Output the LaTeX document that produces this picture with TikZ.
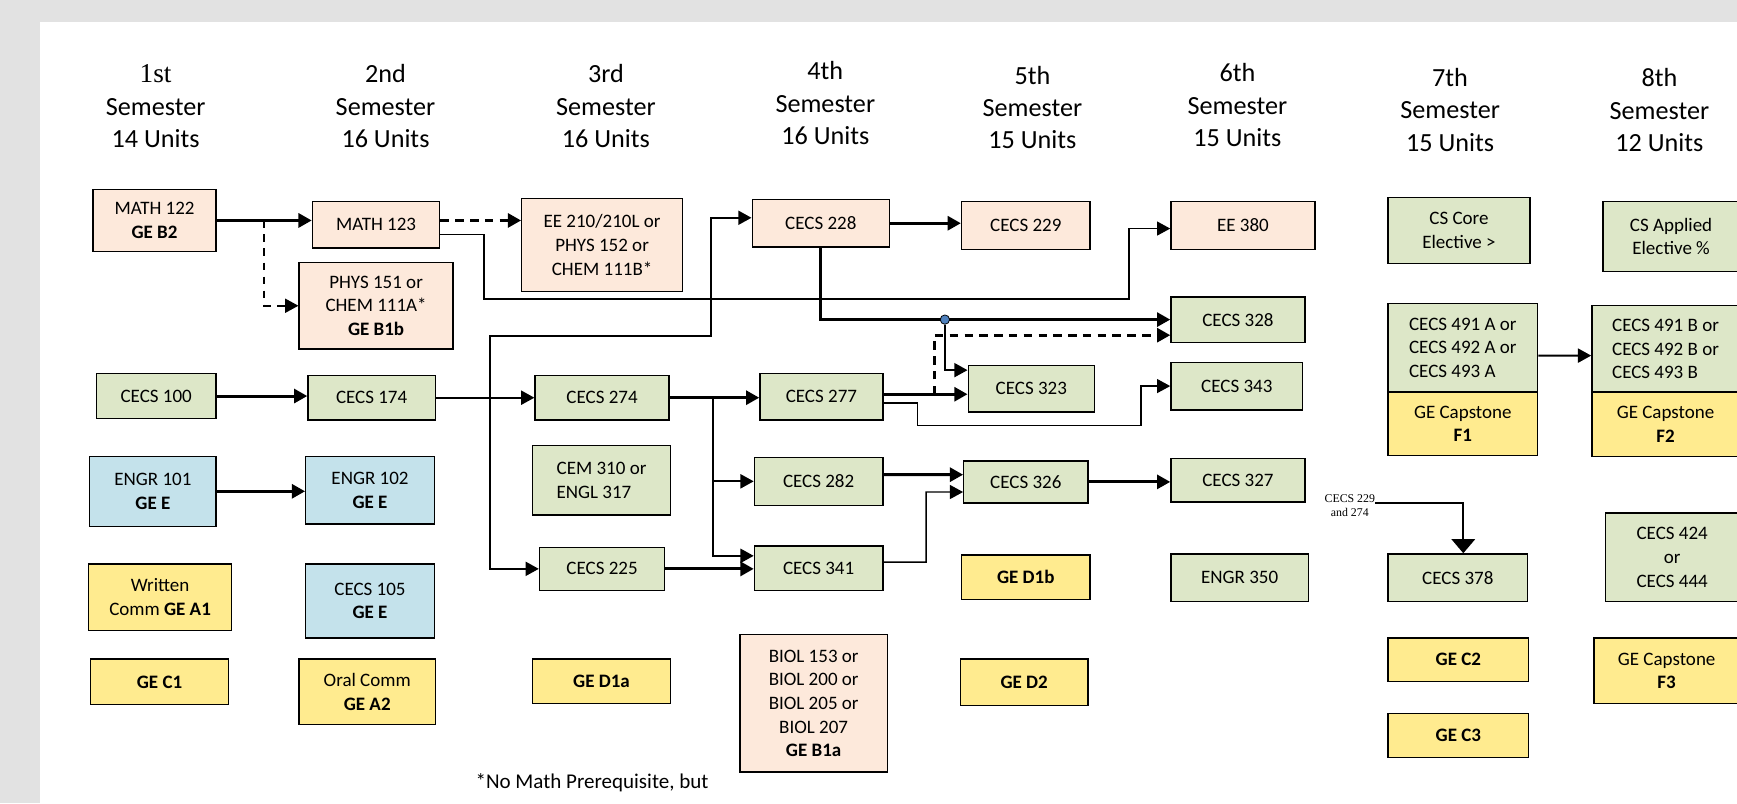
\documentclass[tikz,border=0pt]{standalone}
\usepackage{fontspec}
\setmainfont{Carlito}
\newfontfamily\serifhd{Liberation Serif}
\usetikzlibrary{arrows.meta,calc}
\definecolor{peach}{HTML}{FDE9DB}
\definecolor{sage}{HTML}{DDE7C8}
\definecolor{sky}{HTML}{C4E2EB}
\definecolor{sand}{HTML}{FFEB8F}
\definecolor{pagegray}{HTML}{E2E2E2}
\definecolor{dotblue}{HTML}{4F81BD}
\begin{document}
\begin{tikzpicture}[x=0.025cm, y=-0.025cm,
                box/.style={draw, line width=0.85pt, align=center, inner sep=1pt,
                            font=\fontsize{12.2}{15.2}\selectfont},
                pk/.style={box, fill=peach},
                gr/.style={box, fill=sage},
                bl/.style={box, fill=sky},
                yl/.style={box, fill=sand},
                sem/.style={align=center, font=\fontsize{16.8}{20.8}\selectfont},
                dot/.style={circle, draw, fill=dotblue, line width=0.5pt, inner sep=0pt, minimum size=6pt},
                tip/.style={-{Triangle[length=8.5pt,width=9pt]}},
                thk/.style={tip, line width=1.9pt},
                mid/.style={tip, line width=1.3pt},
                thn/.style={tip, line width=0.9pt},
                dsh/.style={tip, line width=1pt, dash pattern=on 5pt off 4pt},
                dshthk/.style={tip, line width=1.9pt, dash pattern=on 5.5pt off 4pt}
            ]
            \clip (0,0) rectangle (1568,725);
            \fill[pagegray] (0,0) rectangle (1568,725);
            \fill[white] (36,20) rectangle (1568,725);

            \node[sem] (h1) at (140.5,96) {{\serifhd\fontsize{17.5}{20.8}\selectfont 1st}\\Semester\\14 Units};
            \node[sem] (h2) at (348,96) {2nd\\Semester\\16 Units};
            \node[sem] (h3) at (547,96) {3rd\\Semester\\16 Units};
            \node[sem] (h4) at (745,93) {4th\\Semester\\16 Units};
            \node[sem] (h5) at (932,97) {5th\\Semester\\15 Units};
            \node[sem] (h6) at (1117,95) {6th\\Semester\\15 Units};
            \node[sem] (h7) at (1309,99) {7th\\Semester\\15 Units};
            \node[sem] (h8) at (1498,99.5) {8th\\Semester\\12 Units};

            \node[pk, minimum width=2.775cm, minimum height=1.4cm] (m122) at (139.5,199) {MATH 122\\\textbf{GE B2}};
            \node[gr, minimum width=2.7cm, minimum height=1.025cm] (c100) at (141,357.5) {CECS 100};
            \node[bl, minimum width=2.85cm, minimum height=1.575cm] (e101) at (138,443.5) {ENGR 101\\\textbf{GE E}};
            \node[yl, minimum width=3.225cm, minimum height=1.5cm] (wa1) at (144.5,539) {Written\\Comm \textbf{GE A1}};
            \node[yl, minimum width=3.1cm, minimum height=1.025cm] (gc1) at (144,615.5) {\textbf{GE C1}};

            \node[pk, minimum width=2.875cm, minimum height=1.05cm] (m123) at (339.5,203) {MATH 123};
            \node[pk, minimum width=3.475cm, minimum height=1.95cm] (p151) at (339.5,276) {PHYS 151 or\\CHEM 111A*\\\textbf{GE B1b}};
            \node[gr, minimum width=2.875cm, minimum height=1cm] (c174) at (335.5,359) {CECS 174};
            \node[bl, minimum width=2.9cm, minimum height=1.525cm] (e102) at (334,442.5) {ENGR 102\\\textbf{GE E}};
            \node[bl, minimum width=2.9cm, minimum height=1.675cm] (c105) at (334,542.5) {CECS 105\\\textbf{GE E}};
            \node[yl, minimum width=3.075cm, minimum height=1.475cm] (oa2) at (331.5,624.5) {Oral Comm\\\textbf{GE A2}};

            \node[pk, minimum width=3.625cm, minimum height=2.1cm] (ee210) at (543.5,221) {EE 210/210L or\\PHYS 152 or\\CHEM 111B*};
            \node[gr, minimum width=3.025cm, minimum height=1cm] (c274) at (543.5,359) {CECS 274};
            \node[gr, minimum width=3.1cm, minimum height=1.575cm, align=left] (cem) at (543,433.5) {CEM 310 or\\ENGL 317};
            \node[gr, minimum width=2.825cm, minimum height=0.975cm] (c225) at (543.5,513.5) {CECS 225};
            \node[yl, minimum width=3.1cm, minimum height=1cm] (gd1a) at (543,615) {\textbf{GE D1a}};

            \node[pk, minimum width=3.1cm, minimum height=1.075cm] (c228) at (741,201.5) {CECS 228};
            \node[gr, minimum width=2.775cm, minimum height=1.05cm] (c277) at (741.5,358) {CECS 277};
            \node[gr, minimum width=2.9cm, minimum height=1.075cm] (c282) at (739,434.5) {CECS 282};
            \node[gr, minimum width=2.9cm, minimum height=1cm] (c341) at (739,513) {CECS 341};
            \node[pk, minimum width=3.325cm, minimum height=3.1cm] (biol) at (734.5,635) {BIOL 153 or\\BIOL 200 or\\BIOL 205 or\\BIOL 207\\\textbf{GE B1a}};

            \node[pk, minimum width=2.9cm, minimum height=1.075cm] (c229) at (926,203.5) {CECS 229};
            \node[gr, minimum width=2.85cm, minimum height=1.05cm] (c323) at (931,351) {CECS 323};
            \node[gr, minimum width=2.8cm, minimum height=0.95cm] (c326) at (926,435) {CECS 326};
            \node[yl, minimum width=2.9cm, minimum height=1cm] (gd1b) at (926,521) {\textbf{GE D1b}};
            \node[yl, minimum width=2.875cm, minimum height=1.05cm] (gd2) at (924.5,616) {\textbf{GE D2}};

            \node[pk, minimum width=3.25cm, minimum height=1.075cm] (ee380) at (1122,203.5) {EE 380};
            \node[gr, minimum width=3.025cm, minimum height=1.025cm] (c328) at (1117.5,288.5) {CECS 328};
            \node[gr, minimum width=2.975cm, minimum height=1.075cm] (c343) at (1116.5,348.5) {CECS 343};
            \node[gr, minimum width=3.025cm, minimum height=0.975cm] (c327) at (1117.5,433.5) {CECS 327};
            \node[gr, minimum width=3.1cm, minimum height=1.075cm] (e350) at (1119,521.5) {ENGR 350};

            \node[gr, minimum width=3.2cm, minimum height=1.5cm] (csc) at (1317,208) {CS Core\\Elective >};
            \node[gr, minimum width=3.375cm, minimum height=2cm, align=left] (c491a) at (1320.5,314) {CECS 491 A or\\CECS 492 A or\\CECS 493 A};
            \node[yl, minimum width=3.375cm, minimum height=1.425cm] (f1) at (1320.5,382.5) {GE Capstone\\\textbf{F1}};
            \node[gr, minimum width=3.15cm, minimum height=1.075cm] (c378) at (1316,521.5) {CECS 378};
            \node[yl, minimum width=3.175cm, minimum height=0.975cm] (gc2) at (1316.5,595.5) {\textbf{GE C2}};
            \node[yl, minimum width=3.175cm, minimum height=1cm] (gc3) at (1316.5,664) {\textbf{GE C3}};

            \node[gr, minimum width=3.075cm, minimum height=1.575cm] (csa) at (1508.5,213.5) {CS Applied\\Elective \%};
            \node[gr, minimum width=3.325cm, minimum height=1.95cm, align=left] (c491b) at (1503.5,315) {CECS 491 B or\\CECS 492 B or\\CECS 493 B};
            \node[yl, minimum width=3.325cm, minimum height=1.45cm] (f2) at (1503.5,383) {GE Capstone\\\textbf{F2}};
            \node[gr, minimum width=3.025cm, minimum height=2cm] (c424) at (1509.5,503) {CECS 424\\or\\CECS 444};
            \node[yl, minimum width=3.275cm, minimum height=1.475cm] (f3) at (1504.5,605.5) {GE Capstone\\\textbf{F3}};

            \node[font=\serifhd\fontsize{7.6}{8.8}\selectfont, align=center, inner sep=0pt] (nt) at (1218.5,456.6) {CECS 229\\and 274};
            \node[anchor=west, inner sep=0pt, font=\fontsize{13.5}{16}\selectfont] (ftn) at (429,706.5) {*No Math Prerequisite, but};

            \draw[thk] (m122.east) -- (m122.east -| m123.west);
            \draw[dsh] ($(m122.east)!0.5!(m122.east -| m123.west)$) |- (p151.west);
            \draw[dshthk] (m123.east |- m122.east) -- (ee210.west |- m122.east);
            \draw[thn] ([yshift=-6pt]m123.east) -| (437,270) -- (1019,270) |- ([yshift=-2pt]ee380.west);
            \draw[thk] (c100.east) -- (c100.east -| c174.west);
            \draw[thk] (e101.east) -- (e101.east -| e102.west);
            \draw[mid] (c174.east) -- (c274.west);
            \coordinate (j174) at ($(c174.east)!0.55!(c274.west)$);
            \draw[mid] (j174) |- (642,303) |- ([yshift=3.5pt]c228.west);
            \draw[mid] (j174) |- (c225.west);
            \draw[thk] (c274.east) -- (c274.east -| c277.west);
            \coordinate (j274) at ($(c274.east)!0.48!(c274.east -| c277.west)$);
            \draw[mid] (j274) |- (c282.west);
            \draw[mid] (j274) |- ([yshift=8pt]c341.west);
            \draw[thk] (c225.east) -- (c225.east -| c341.west);
            \draw[thk] (c228.east) -- (c228.east -| c229.west);
            \draw[thk] (c228.south) |- (c328.west);
            \node[dot] (dt) at ($(c228.south |- c328.west)!0.355!(c328.west)$) {};
            \draw[mid] (dt) |- ([yshift=12pt]c323.west);
            \coordinate (s277) at ([yshift=1.5pt]c277.east);
            \draw[thk] (s277) -- (s277 -| c323.west);
            \coordinate (j277) at ($(s277)!0.61!(s277 -| c323.west)$);
            \draw[dshthk] (j277) |- ([yshift=-10pt]c328.west);
            \draw[thn] ([yshift=-4pt]c277.east) -| (828,384) -- (1030,384) |- (c343.west);
            \draw[thk] ([yshift=4.3pt]c282.east) -- ($(c282.east -| c326.west)+(0,-6)$);
            \draw[thn] ([yshift=4pt]c341.east) -- (836,507.4) |- ([yshift=-6.5pt]c326.west);
            \draw[thk] (c326.east) -- (c326.east -| c327.west);
            \draw[mid] ([yshift=-5pt]c491a.east) -- ($(c491a.east -| c491b.west)+(0,7)$);
            \draw[line width=1.1pt, -{Triangle[length=9pt,width=15pt]}] ([yshift=2pt]nt.east) -| ([xshift=3.5pt]c378.north);
        \end{tikzpicture}
\end{document}
